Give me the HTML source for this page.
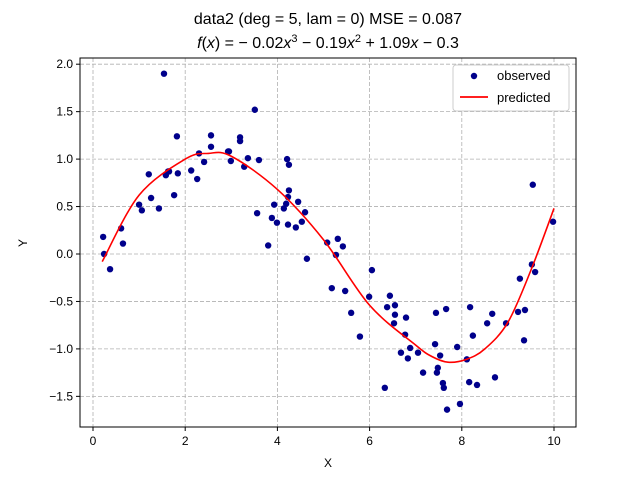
<!DOCTYPE html>
<html><head><meta charset="utf-8"><style>
body{margin:0;background:#fff;}
svg{font-family:"Liberation Sans","DejaVu Sans",sans-serif;}
</style></head><body>
<svg id="chart" width="640" height="480" xmlns="http://www.w3.org/2000/svg">
<text x="328" y="24" text-anchor="middle" font-size="16">data2  (deg = 5, lam = 0) MSE = 0.087</text>
<text x="328" y="48" text-anchor="middle" font-size="16"><tspan font-style="italic">f</tspan>(<tspan font-style="italic">x</tspan>) = − 0.02<tspan font-style="italic">x</tspan><tspan dy="-6" font-size="11">3</tspan><tspan dy="6"> − 0.19</tspan><tspan font-style="italic">x</tspan><tspan dy="-6" font-size="11">2</tspan><tspan dy="6"> + 1.09</tspan><tspan font-style="italic">x</tspan> − 0.3</text>
<g id="grid"></g><g id="axes"></g><g id="marks"></g>
<text x="328" y="467" text-anchor="middle" font-size="12">X</text>
<text x="27" y="243" text-anchor="middle" font-size="12" transform="rotate(-90 27 243)">Y</text>
<g>
<rect x="453" y="65" width="116" height="46" fill="#fff" stroke="#ccc" rx="3"/>
<circle cx="474" cy="76" r="3.2" fill="#00008b"/>
<text x="497" y="80" font-size="13">observed</text>
<line x1="460" y1="97" x2="488" y2="97" stroke="red" stroke-width="1.8"/>
<text x="497" y="102" font-size="13">predicted</text>
</g>
</svg>
<script>
const obsX=[0.22,0.24,0.37,0.61,0.65,1.0,1.06,1.21,1.26,1.43,1.54,1.58,1.63,1.65,1.76,1.82,1.84,2.13,2.26,2.30,2.41,2.56,2.56,2.93,2.95,2.99,3.19,3.19,3.28,3.36,3.51,3.60,3.56,3.80,3.88,3.93,3.99,4.14,4.21,4.25,4.25,4.23,4.19,4.23,4.40,4.45,4.53,4.60,4.64,5.08,5.18,5.27,5.31,5.42,5.47,5.60,5.79,5.99,6.05,6.33,6.38,6.44,6.55,6.55,6.53,6.68,6.77,6.79,6.83,6.88,7.05,7.16,7.42,7.44,7.46,7.48,7.53,7.59,7.61,7.66,7.68,7.90,7.96,8.11,8.16,8.18,8.24,8.33,8.55,8.66,8.72,8.96,9.22,9.26,9.35,9.37,9.52,9.54,9.59,9.98];
const obsY=[0.18,0.0,-0.16,0.27,0.11,0.52,0.46,0.84,0.59,0.48,1.90,0.83,0.87,0.87,0.62,1.24,0.85,0.88,0.79,1.06,0.97,1.25,1.13,1.08,1.08,0.98,1.23,1.19,0.92,1.01,1.52,0.99,0.43,0.09,0.38,0.52,0.33,0.48,1.0,0.94,0.67,0.60,0.53,0.31,0.28,0.55,0.34,0.44,-0.05,0.12,-0.36,-0.01,0.16,0.08,-0.39,-0.62,-0.87,-0.45,-0.17,-1.41,-0.56,-0.44,-0.54,-0.64,-0.73,-1.04,-0.85,-0.67,-1.10,-0.99,-1.04,-1.25,-0.95,-0.62,-1.25,-1.20,-1.07,-1.36,-1.41,-0.58,-1.64,-0.98,-1.58,-1.11,-1.35,-0.56,-0.86,-1.38,-0.73,-0.63,-1.30,-0.73,-0.61,-0.26,-0.91,-0.59,-0.11,0.73,-0.19,0.34];
const predX=[0.2,1,2,2.5,3,4,5,6,7,7.35,7.7,8.1,8.5,9,9.5,10];
const predY=[-0.08,0.62,1.0,1.06,1.03,0.68,0.15,-0.54,-0.96,-1.08,-1.14,-1.11,-1.0,-0.72,-0.17,0.48];
const xTicks=[0,2,4,6,8,10];
const yTicks=[-1.5,-1.0,-0.5,0.0,0.5,1.0,1.5,2.0];
const L=80,R=576,T=58,B=427;
const sx=v=>93+v*46.1, sy=v=>254-v*94.9;
const NS='http://www.w3.org/2000/svg';
function mk(t,a,p){const e=document.createElementNS(NS,t);for(const k in a)e.setAttribute(k,a[k]);p.appendChild(e);return e;}
const grid=document.getElementById('grid'),axes=document.getElementById('axes'),marks=document.getElementById('marks');
xTicks.forEach(v=>{const x=sx(v);
 const g=mk('line',{x1:x,x2:x,y1:T,y2:B,stroke:'#b0b0b0','stroke-dasharray':'4,2','stroke-width':0.8},grid);
 
 
 const t=mk('line',{x1:x,x2:x,y1:B,y2:B+4,stroke:'#000'},axes);
 
 
 const l=mk('text',{x:x,y:B+18,'text-anchor':'middle','font-size':12},axes);l.textContent=String(v);
 
 });
yTicks.forEach(v=>{const y=sy(v);
 const g=mk('line',{x1:L,x2:R,y1:y,y2:y,stroke:'#b0b0b0','stroke-dasharray':'4,2','stroke-width':0.8},grid);
 
 
 const t=mk('line',{x1:L-4,x2:L,y1:y,y2:y,stroke:'#000'},axes);
 
 
 const l=mk('text',{x:L-7,y:y+4,'text-anchor':'end','font-size':12},axes);l.textContent=(v<0?'−':'')+Math.abs(v).toFixed(1);
 
 });
const fr=mk('rect',{x:L,y:T,width:R-L,height:B-T,fill:'none',stroke:'#000','stroke-width':1},axes);


obsX.forEach((v,i)=>{const c=mk('circle',{cx:sx(v),cy:sy(obsY[i]),r:3.2,fill:'#00008b'},marks);
 
 });
const P=predX.map((v,i)=>[sx(v),sy(predY[i])]);
let d='M'+P[0][0]+','+P[0][1];
for(let i=0;i<P.length-1;i++){const p0=P[Math.max(0,i-1)],p1=P[i],p2=P[i+1],p3=P[Math.min(P.length-1,i+2)];
 d+=' C'+(p1[0]+(p2[0]-p0[0])/6)+','+(p1[1]+(p2[1]-p0[1])/6)+' '+(p2[0]-(p3[0]-p1[0])/6)+','+(p2[1]-(p3[1]-p1[1])/6)+' '+p2[0]+','+p2[1];}
const pl=mk('path',{d:d,fill:'none',stroke:'red','stroke-width':1.6},marks);


</script>
</body></html>
